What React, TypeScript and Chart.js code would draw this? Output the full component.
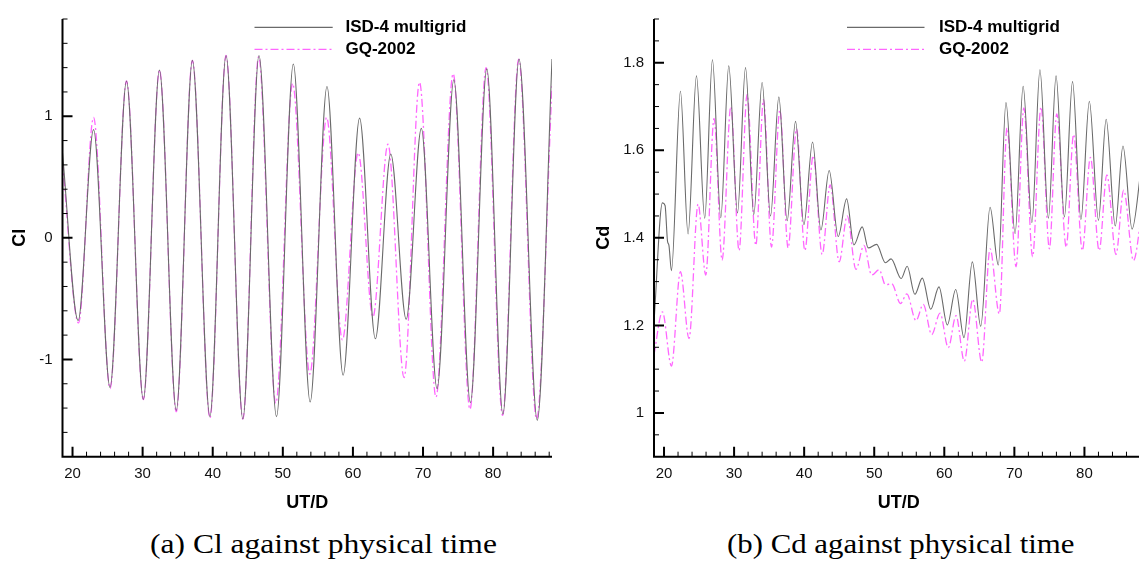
import React, { useEffect, useRef } from 'react';
import { Chart, registerables } from 'chart.js';

Chart.register(...registerables);

// ---------- data ----------
const clIsdTime = [18.57, 20.8, 23.0, 25.35, 27.7, 30.1, 32.4, 34.8, 37.1, 39.6, 41.9, 44.3, 46.6, 49.1, 51.5, 53.9, 56.3, 58.6, 60.95, 63.2, 65.4, 67.6, 69.76, 72.0, 74.4, 76.76, 79.1, 81.4, 83.7, 86.3, 88.4];
const clIsdValue = [0.70, -0.68, 0.89, -1.23, 1.29, -1.33, 1.38, -1.42, 1.46, -1.47, 1.50, -1.49, 1.50, -1.47, 1.43, -1.35, 1.245, -1.13, 0.985, -0.83, 0.69, -0.67, 0.90, -1.24, 1.30, -1.355, 1.39, -1.45, 1.47, -1.50, 1.47];

const clGqTime = [18.57, 20.85, 23.0, 25.35, 27.7, 30.1, 32.4, 34.8, 37.1, 39.6, 41.9, 44.3, 46.55, 49.0, 51.4, 53.85, 56.25, 58.5, 60.75, 62.85, 65.0, 67.3, 69.5, 71.85, 74.3, 76.7, 79.0, 81.35, 83.65, 86.2, 88.4];
const clGqValue = [0.62, -0.70, 0.99, -1.24, 1.29, -1.33, 1.38, -1.43, 1.46, -1.48, 1.50, -1.49, 1.49, -1.36, 1.27, -1.12, 0.99, -0.84, 0.70, -0.65, 0.77, -1.15, 1.28, -1.31, 1.35, -1.41, 1.40, -1.46, 1.47, -1.49, 1.25];

const cdIsdTime = [18.57, 19.77, 20.15, 20.5, 20.7, 21.06, 22.34, 23.43, 24.63, 25.81, 26.91, 28.1, 29.24, 30.49, 31.63, 32.81, 34.0, 35.2, 36.39, 37.57, 38.77, 39.96, 41.2, 42.39, 43.57, 44.86, 46.06, 47.1, 48.29, 49.14, 50.34, 51.6, 52.4, 53.85, 54.7, 55.8, 56.86, 58.06, 59.24, 60.43, 61.63, 62.81, 64.0, 65.2, 66.53, 67.71, 68.8, 70.1, 71.25, 72.5, 73.65, 74.86, 75.95, 77.14, 78.3, 79.5, 80.7, 82.0, 83.1, 84.4, 85.5, 86.8, 88.1];
const cdIsdValue = [1.207, 1.480, 1.474, 1.392, 1.383, 1.325, 1.735, 1.409, 1.770, 1.445, 1.807, 1.446, 1.793, 1.457, 1.789, 1.453, 1.755, 1.450, 1.722, 1.439, 1.666, 1.430, 1.619, 1.418, 1.554, 1.403, 1.489, 1.384, 1.425, 1.377, 1.385, 1.343, 1.352, 1.307, 1.335, 1.271, 1.308, 1.237, 1.288, 1.201, 1.282, 1.172, 1.345, 1.198, 1.470, 1.338, 1.709, 1.410, 1.746, 1.435, 1.784, 1.445, 1.770, 1.448, 1.757, 1.442, 1.712, 1.440, 1.671, 1.427, 1.610, 1.420, 1.56];

const cdGqTime = [18.57, 19.77, 21.06, 22.34, 23.57, 24.86, 25.96, 27.14, 28.29, 29.53, 30.71, 31.86, 33.1, 34.2, 35.34, 36.53, 37.71, 38.91, 40.1, 41.29, 42.57, 43.71, 45.0, 46.14, 47.39, 48.53, 49.63, 50.71, 51.6, 52.5, 53.75, 54.65, 55.96, 57.0, 58.2, 59.39, 60.57, 61.67, 62.86, 64.06, 65.34, 66.53, 67.86, 68.95, 70.24, 71.35, 72.6, 73.8, 75.0, 76.05, 77.4, 78.45, 79.7, 80.85, 82.1, 83.2, 84.5, 85.6, 87.0, 88.2];
const cdGqValue = [1.133, 1.231, 1.107, 1.323, 1.170, 1.477, 1.315, 1.673, 1.349, 1.700, 1.371, 1.728, 1.383, 1.716, 1.379, 1.692, 1.377, 1.649, 1.371, 1.588, 1.362, 1.521, 1.345, 1.450, 1.328, 1.383, 1.315, 1.327, 1.293, 1.295, 1.250, 1.272, 1.211, 1.248, 1.179, 1.228, 1.149, 1.222, 1.118, 1.260, 1.116, 1.375, 1.226, 1.651, 1.334, 1.697, 1.357, 1.699, 1.375, 1.683, 1.379, 1.636, 1.371, 1.584, 1.371, 1.544, 1.362, 1.509, 1.348, 1.46];

const xMajorTicks = [20, 30, 40, 50, 60, 70, 80];
const xMinorTicks = [22, 24, 26, 28, 32, 34, 36, 38, 42, 44, 46, 48, 52, 54, 56, 58, 62, 64, 66, 68, 72, 74, 76, 78, 82, 84, 86, 88];
const clMajorTicks = [-1, 0, 1];
const clMinorTicks = [-1.6, -1.4, -1.2, -0.8, -0.6, -0.4, -0.2, 0.2, 0.4, 0.6, 0.8, 1.2, 1.4, 1.6, 1.8];
const cdMajorTicks = [1, 1.2, 1.4, 1.6, 1.8];
const cdMinorTicks = [0.95, 1.05, 1.1, 1.15, 1.25, 1.3, 1.35, 1.45, 1.5, 1.55, 1.65, 1.7, 1.75, 1.85, 1.9];

const seriesLabels = ['ISD-4 multigrid', 'GQ-2002'];
const xTitle = 'UT/D';
const clTitle = 'Cl';
const cdTitle = 'Cd';
const captionA = '(a) Cl against physical time';
const captionB = '(b) Cd against physical time';

// ---------- styling / layout ----------
const FONT = '"Liberation Sans", Arial, Helvetica, sans-serif';
const GRAY = '#6a6a6a';
const PINK = 'rgba(255, 0, 255, 0.6)';
const PINK_DASH = [8, 3, 2, 3];
const X_MIN = 18.57;
const X_MAX = 88.4;
const CANVAS_H = 520;
const PLOT_TOP = 10;
const PLOT_BOTTOM = 456.7;

const decorPlugin = {
  id: 'decor',
  afterDraw(chart: any, _args: any, opts: any) {
    const { ctx, chartArea } = chart;
    const { left, right, top, bottom } = chartArea;
    const xs = chart.scales.x;
    const ys = chart.scales.y;
    ctx.save();
    ctx.strokeStyle = '#000';
    ctx.lineCap = 'butt';
    // axis lines
    ctx.lineWidth = 2;
    ctx.beginPath();
    ctx.moveTo(left, top);
    ctx.lineTo(left, bottom);
    ctx.lineTo(right, bottom);
    ctx.stroke();
    // inward ticks
    const drawX = (vals: number[], len: number, w: number) => {
      ctx.lineWidth = w;
      ctx.beginPath();
      for (const v of vals) {
        const px = xs.getPixelForValue(v);
        ctx.moveTo(px, bottom);
        ctx.lineTo(px, bottom - len);
      }
      ctx.stroke();
    };
    const drawY = (vals: number[], len: number, w: number) => {
      ctx.lineWidth = w;
      ctx.beginPath();
      for (const v of vals) {
        const py = ys.getPixelForValue(v);
        ctx.moveTo(left, py);
        ctx.lineTo(left + len, py);
      }
      ctx.stroke();
    };
    drawX(xMajorTicks, 10, 2);
    drawX(xMinorTicks, 5, 1);
    drawY(opts.yMajor, 10, 2);
    drawY(opts.yMinor, 5, 1);

    // axis titles
    ctx.fillStyle = '#000';
    ctx.font = `bold 18px ${FONT}`;
    ctx.textAlign = 'center';
    ctx.textBaseline = 'middle';
    ctx.fillText(xTitle, (left + right) / 2, 503);
    ctx.save();
    ctx.translate(opts.yTitleX, (top + bottom) / 2);
    ctx.rotate(-Math.PI / 2);
    ctx.fillText(opts.yTitle, 0, 0);
    ctx.restore();

    // legend
    const rows = [
      { y: 27.3, color: GRAY, dash: [] as number[], label: seriesLabels[0] },
      { y: 49.3, color: PINK, dash: PINK_DASH, label: seriesLabels[1] },
    ];
    ctx.font = `bold 17px ${FONT}`;
    ctx.textAlign = 'left';
    for (const r of rows) {
      ctx.save();
      ctx.strokeStyle = r.color;
      ctx.lineWidth = 1.3;
      ctx.setLineDash(r.dash);
      ctx.beginPath();
      ctx.moveTo(opts.legendX1, r.y);
      ctx.lineTo(opts.legendX2, r.y);
      ctx.stroke();
      ctx.restore();
      ctx.fillStyle = '#000';
      ctx.fillText(r.label, opts.legendTextX, r.y);
    }
    ctx.restore();
  },
};

type PanelProps = {
  isdTime: number[];
  isdValue: number[];
  gqTime: number[];
  gqValue: number[];
  yMin: number;
  yMax: number;
  yMajor: number[];
  yMinor: number[];
  yTitle: string;
  width: number;
  left: number;
  plotLeft: number;
  plotRight: number;
  yTitleX: number;
  legendX1: number;
  legendX2: number;
  legendTextX: number;
};

function Panel(p: PanelProps) {
  const ref = useRef<HTMLCanvasElement>(null);
  useEffect(() => {
    const canvas = ref.current as HTMLCanvasElement;
    const chart = new Chart(canvas, {
      type: 'line',
      data: {
        datasets: [
          {
            label: seriesLabels[0],
            data: p.isdTime.map((t, i) => ({ x: t, y: p.isdValue[i] })),
            borderColor: GRAY,
            borderWidth: 1.1,
            pointRadius: 0,
            cubicInterpolationMode: 'monotone',
            tension: 0.4,
            fill: false,
          },
          {
            label: seriesLabels[1],
            data: p.gqTime.map((t, i) => ({ x: t, y: p.gqValue[i] })),
            borderColor: PINK,
            borderDash: PINK_DASH,
            borderWidth: 1.3,
            pointRadius: 0,
            cubicInterpolationMode: 'monotone',
            tension: 0.4,
            fill: false,
          },
        ],
      },
      options: {
        responsive: false,
        maintainAspectRatio: false,
        animation: false,
        events: [],
        layout: { padding: { left: 0, top: PLOT_TOP, right: p.width - p.plotRight, bottom: 0 } },
        plugins: {
          legend: { display: false },
          tooltip: { enabled: false },
          decor: {
            yMajor: p.yMajor,
            yMinor: p.yMinor,
            yTitle: p.yTitle,
            yTitleX: p.yTitleX,
            legendX1: p.legendX1,
            legendX2: p.legendX2,
            legendTextX: p.legendTextX,
          },
        } as any,
        scales: {
          x: {
            type: 'linear',
            min: X_MIN,
            max: X_MAX,
            grid: { display: false, drawTicks: false },
            border: { display: false },
            afterBuildTicks: (s: any) => {
              s.ticks = xMajorTicks.map((v) => ({ value: v }));
            },
            afterFit: (s: any) => {
              s.height = CANVAS_H - PLOT_BOTTOM;
            },
            ticks: {
              font: { family: FONT, size: 15 },
              color: '#111',
              padding: 8,
              maxRotation: 0,
              autoSkip: false,
              callback: (v: any) => String(v),
            },
          },
          y: {
            type: 'linear',
            min: p.yMin,
            max: p.yMax,
            grid: { display: false, drawTicks: false },
            border: { display: false },
            afterBuildTicks: (s: any) => {
              s.ticks = p.yMajor.map((v) => ({ value: v }));
            },
            afterFit: (s: any) => {
              s.width = p.plotLeft;
            },
            ticks: {
              font: { family: FONT, size: 15 },
              color: '#111',
              padding: 10,
              autoSkip: false,
              callback: (v: any) => String(v),
            },
          },
        },
      } as any,
      plugins: [decorPlugin as any],
    });
    return () => chart.destroy();
  }, []);
  return (
    <canvas
      ref={ref}
      width={p.width}
      height={CANVAS_H}
      style={{ position: 'absolute', left: p.left, top: 0, width: p.width, height: CANVAS_H }}
    />
  );
}

function Caption({ text, center }: { text: string; center: number }) {
  const ref = useRef<HTMLSpanElement>(null);
  const target = 347;
  useEffect(() => {
    const el = ref.current as HTMLSpanElement;
    const w = el.offsetWidth;
    el.style.transform = `scaleX(${target / w})`;
    el.style.left = `${center - target / 2}px`;
  }, []);
  return (
    <span
      ref={ref}
      style={{
        position: 'absolute',
        top: 531,
        left: center - target / 2,
        fontFamily: '"Liberation Serif", "Times New Roman", serif',
        fontSize: 27,
        lineHeight: '27px',
        whiteSpace: 'nowrap',
        transformOrigin: '0 0',
        color: '#000',
      }}
    >
      {text}
    </span>
  );
}

export default function App() {
  return (
    <div
      style={{
        position: 'fixed',
        left: 0,
        top: 0,
        width: 1139,
        height: 567,
        overflow: 'hidden',
        background: '#fff',
      }}
    >
      <Panel
        isdTime={clIsdTime}
        isdValue={clIsdValue}
        gqTime={clGqTime}
        gqValue={clGqValue}
        yMin={-1.8}
        yMax={1.8}
        yMajor={clMajorTicks}
        yMinor={clMinorTicks}
        yTitle={clTitle}
        width={570}
        left={0}
        plotLeft={62.5}
        plotRight={552}
        yTitleX={20}
        legendX1={254.5}
        legendX2={332.7}
        legendTextX={345.5}
      />
      <Panel
        isdTime={cdIsdTime}
        isdValue={cdIsdValue}
        gqTime={cdGqTime}
        gqValue={cdGqValue}
        yMin={0.9}
        yMax={1.9}
        yMajor={cdMajorTicks}
        yMinor={cdMinorTicks}
        yTitle={cdTitle}
        width={600}
        left={570}
        plotLeft={84}
        plotRight={573.3}
        yTitleX={34.5}
        legendX1={277}
        legendX2={354.5}
        legendTextX={369}
      />
      <Caption text={captionA} center={323.5} />
      <Caption text={captionB} center={900.5} />
    </div>
  );
}
